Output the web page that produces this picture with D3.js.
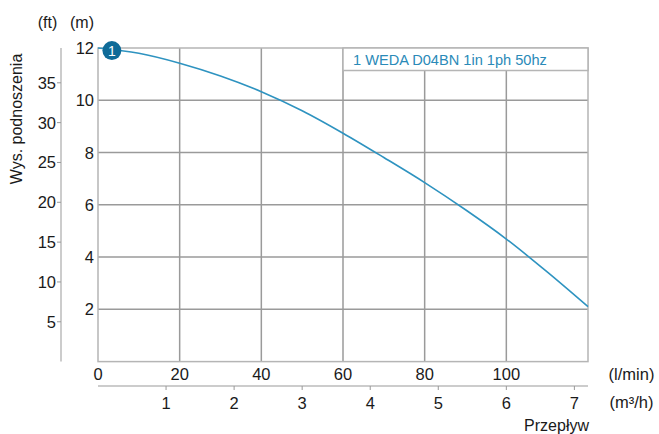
<!DOCTYPE html>
<html><head><meta charset="utf-8">
<script src="https://cdn.jsdelivr.net/npm/d3@7"></script>
<style>body{margin:0;background:#fff}svg{display:block}text{font-family:"Liberation Sans",Arial,Helvetica,sans-serif;fill:#1a1a1a}</style>
</head><body>
<script>
const flowLpm = [0,10,20,30,40,50,60,70,80,90,100,110,120];
const headM  = [12.0,11.8,11.42,10.93,10.33,9.6,8.74,7.81,6.85,5.81,4.69,3.43,2.10];
const seriesName = "1 WEDA D04BN 1in 1ph 50hz";
const mTicks = [2,4,6,8,10,12];
const ftTicks = [5,10,15,20,25,30,35];
const lpmTicks = [0,20,40,60,80,100];
const m3hTicks = [1,2,3,4,5,6,7];

const W=659,H=434;
const L=98,R=588,T=48,B=361.6;
const svg=d3.select("body").append("svg").attr("width",W).attr("height",H);
const x=d3.scaleLinear().domain([0,120]).range([L,R]);
const xm3=d3.scaleLinear().domain([0,7.2]).range([L,R]);
const y=d3.scaleLinear().domain([0,12]).range([B,T]);
const yft=d3.scaleLinear().domain([0,12/0.3048]).range([B,T]);
const gridC="#9a9a9a", frameC="#b5b5b5";
const fs=16.5;

const g=svg.append("g");
g.selectAll(".vg").data(lpmTicks.filter(d=>d>0)).enter().append("line")
 .attr("x1",d=>x(d)).attr("x2",d=>x(d)).attr("y1",T).attr("y2",B)
 .attr("stroke",gridC).attr("stroke-width",1.5);
g.selectAll(".hg").data(mTicks.filter(d=>d<12)).enter().append("line")
 .attr("x1",L).attr("x2",R).attr("y1",d=>y(d)).attr("y2",d=>y(d))
 .attr("stroke",gridC).attr("stroke-width",1.5);
g.append("rect").attr("x",L).attr("y",T).attr("width",R-L).attr("height",B-T)
 .attr("fill","none").attr("stroke",frameC).attr("stroke-width",1.5);

// legend box
const lx=x(60), ly=T;
svg.append("rect").attr("x",lx).attr("y",ly).attr("width",R-lx).attr("height",22.5)
 .attr("fill","#fff").attr("stroke",frameC).attr("stroke-width",1.5);
svg.append("text").attr("x",lx+10).attr("y",ly+16.5).attr("font-size",14.6)
 .style("fill","#2a8ab8").text(seriesName);

// curve
const pts=flowLpm.map((f,i)=>[f,headM[i]]);
svg.append("path").datum(pts)
 .attr("d",d3.line().x(d=>x(d[0])).y(d=>y(d[1])).curve(d3.curveMonotoneX))
 .attr("fill","none").attr("stroke","#2e93c0").attr("stroke-width",1.6);

// marker
svg.append("circle").attr("cx",x(3.4)).attr("cy",y(11.9)).attr("r",9.5).attr("fill","#0f6b98");
svg.append("text").attr("x",x(3.4)).attr("y",y(11.9)+5).attr("text-anchor","middle")
 .attr("font-size",14).style("fill","#fff").text("1");

// m axis labels
svg.selectAll(".ml").data(mTicks).enter().append("text")
 .attr("x",L-4).attr("y",d=>y(d)+6).attr("text-anchor","end").attr("font-size",fs).text(d=>d);

// ft axis
const fx=61;
svg.append("line").attr("x1",fx).attr("x2",fx).attr("y1",T).attr("y2",B)
 .attr("stroke","#bbb").attr("stroke-width",1.5);
svg.selectAll(".ft").data(ftTicks).enter().append("line")
 .attr("x1",fx-4).attr("x2",fx).attr("y1",d=>yft(d)).attr("y2",d=>yft(d)).attr("stroke","#999");
svg.selectAll(".ftl").data(ftTicks).enter().append("text")
 .attr("x",fx-5).attr("y",d=>yft(d)+6).attr("text-anchor","end").attr("font-size",fs).text(d=>d);

svg.append("text").attr("x",47.5).attr("y",28).attr("text-anchor","middle").attr("font-size",16).text("(ft)");
svg.append("text").attr("x",82).attr("y",28).attr("text-anchor","middle").attr("font-size",16).text("(m)");
svg.append("text").attr("transform","translate(22,119) rotate(-90)").attr("text-anchor","middle")
 .attr("font-size",16).text("Wys. podnoszenia");

// l/min labels
svg.selectAll(".xl").data(lpmTicks).enter().append("text")
 .attr("x",d=>x(d)).attr("y",380).attr("text-anchor","middle").attr("font-size",fs).text(d=>d);
svg.append("text").attr("x",631.5).attr("y",380).attr("text-anchor","middle").attr("font-size",16.5).text("(l/min)");

// m3/h axis
const ay=386;
svg.append("line").attr("x1",L).attr("x2",R).attr("y1",ay).attr("y2",ay).attr("stroke","#bbb").attr("stroke-width",1.5);
svg.selectAll(".mt").data(m3hTicks).enter().append("line")
 .attr("x1",d=>xm3(d)).attr("x2",d=>xm3(d)).attr("y1",ay).attr("y2",ay+4).attr("stroke","#999");
svg.selectAll(".m3l").data(m3hTicks).enter().append("text")
 .attr("x",d=>xm3(d)).attr("y",409).attr("text-anchor","middle").attr("font-size",fs).text(d=>d);
svg.append("text").attr("x",631.5).attr("y",408).attr("text-anchor","middle").attr("font-size",16.5).text("(m³/h)");
svg.append("text").attr("x",589).attr("y",431).attr("text-anchor","end").attr("font-size",16).text("Przepływ");
</script>
</body></html>
